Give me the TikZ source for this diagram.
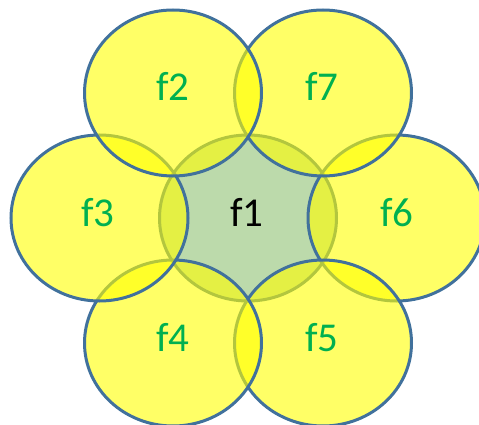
\documentclass[tikz,border=0pt]{standalone}
\usepackage{fontspec}
\setmainfont{Carlito}
\usetikzlibrary{shapes.geometric}
\definecolor{bord}{HTML}{41719C}
\definecolor{yel}{HTML}{FFFF00}
\definecolor{grn}{HTML}{BCDAAB}
\definecolor{lab}{HTML}{00B050}
\begin{document}
\begin{tikzpicture}[x=1pt,y=-1pt,
  circ/.style={ellipse, draw=bord, line width=3pt, minimum width=177pt, minimum height=166pt, inner sep=0pt, outer sep=0pt},
  outer/.style={circ, fill=yel, fill opacity=0.6},
  inner/.style={circ, fill=grn},
  lbl/.style={anchor=base, inner sep=0pt, font=\fontsize{41}{41}\selectfont, text=lab}]
\useasboundingbox (0,0) rectangle (479,425);
\node[inner] (c1) at (248,218) {};
\node[outer] (c6) at (396.5,218) {};
\node[outer] (c7) at (323,93) {};
\node[outer] (c5) at (323,343) {};
\node[outer] (c4) at (173,343) {};
\node[outer] (c3) at (99.5,218) {};
\node[outer] (c2) at (173,93) {};
\node[lbl, text=black] (t1) at (247,226) {f1};
\node[lbl] (t2) at (173,101) {f2};
\node[lbl] (t3) at (98,226) {f3};
\node[lbl] (t4) at (173,351) {f4};
\node[lbl] (t5) at (322,351) {f5};
\node[lbl] (t6) at (397,226) {f6};
\node[lbl] (t7) at (322,101) {f7};
\end{tikzpicture}
\end{document}
